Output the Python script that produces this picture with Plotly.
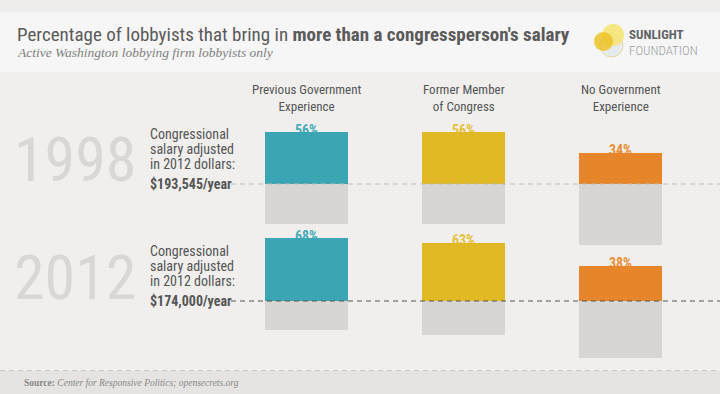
import plotly.graph_objects as go

# ---- data ----
categories = ["Previous Government<br>Experience", "Former Member<br>of Congress", "No Government<br>Experience"]
years = ["1998", "2012"]
values_1998 = [56, 56, 34]
values_2012 = [68, 63, 38]
salary_labels = ["$193,545/year", "$174,000/year"]
colors = ["#3ba5b3", "#e1b924", "#e6852a"]
label_colors = ["#4aabb9", "#e6c13a", "#eb8e35"]
rest_color = "#d7d6d2"

W, H = 720, 394
COND = "Roboto Condensed, Liberation Sans, Arial"
SERIF = "Liberation Serif, DejaVu Serif, serif"


def px(x):
    return x / W


def py(y):
    return 1 - y / H


fig = go.Figure()

# baseline pixel positions & scale: 0.92 px per percent
scale = 0.92
base_px = [184, 301]
yaxes = ["y", "y2"]
series = [values_1998, values_2012]

for yi, (vals, ax) in enumerate(zip(series, yaxes)):
    fig.add_trace(go.Bar(x=categories, y=vals, base=0, marker=dict(color=colors, line=dict(width=0)),
                         width=0.53, yaxis=ax, showlegend=False, hoverinfo="skip"))
    fig.add_trace(go.Bar(x=categories, y=[-(100 - v) for v in vals], base=0,
                         marker=dict(color=rest_color, line=dict(width=0)),
                         width=0.53, yaxis=ax, showlegend=False, hoverinfo="skip"))

shapes = []
# backgrounds
shapes.append(dict(type="rect", xref="paper", yref="paper", x0=0, x1=1, y0=py(12), y1=1,
                   fillcolor="#eeedeb", line=dict(width=0), layer="below"))
shapes.append(dict(type="rect", xref="paper", yref="paper", x0=0, x1=1, y0=py(72), y1=py(12),
                   fillcolor="#f6f6f6", line=dict(width=0), layer="below"))
shapes.append(dict(type="rect", xref="paper", yref="paper", x0=0, x1=1, y0=0, y1=py(371),
                   fillcolor="#e5e4e2", line=dict(width=0), layer="below"))
shapes.append(dict(type="line", xref="paper", yref="paper", x0=0, x1=1, y0=py(370.5), y1=py(370.5),
                   line=dict(color="#c9c8c5", width=1, dash="5px,4px")))

# percent labels, drawn below bars so the bar overlaps them slightly
for yi, (vals, ax) in enumerate(zip(series, yaxes)):
    for i, v in enumerate(vals):
        shapes.append(dict(type="line", xref="x", yref=ax, x0=i - 0.2, x1=i + 0.2, y0=v - 4.5, y1=v - 4.5,
                           line=dict(width=0, color="rgba(0,0,0,0)"), layer="below",
                           label=dict(text=f"<b>{v}%</b>", textposition="middle", yanchor="bottom",
                                      padding=0, font=dict(family=COND, size=14, color=label_colors[i]))))

# salary baselines
shapes.append(dict(type="line", xref="paper", yref="y", x0=px(231), x1=1, y0=0, y1=0,
                   line=dict(color="#bdbcb9", width=1, dash="5px,4px")))
shapes.append(dict(type="line", xref="paper", yref="y2", x0=px(231), x1=1, y0=0, y1=0,
                   line=dict(color="#555555", width=1, dash="5px,4px")))

# logo circles
shapes.append(dict(type="circle", xref="paper", yref="paper",
                   x0=px(600), x1=px(623), y0=py(57), y1=py(34),
                   fillcolor="rgba(228,233,236,0.9)", line=dict(color="#e3d79a", width=1)))
shapes.append(dict(type="circle", xref="paper", yref="paper",
                   x0=px(602), x1=px(624), y0=py(46), y1=py(24),
                   fillcolor="rgba(246,228,110,0.85)", line=dict(width=0)))
shapes.append(dict(type="circle", xref="paper", yref="paper",
                   x0=px(594), x1=px(613), y0=py(51), y1=py(32),
                   fillcolor="rgba(236,195,40,0.85)", line=dict(width=0)))

ann = []
# title
ann.append(dict(text="Percentage of lobbyists that bring in <b>more than a congressperson's salary</b>",
                x=px(15), y=py(35), xref="paper", yref="paper", xanchor="left", yanchor="middle",
                showarrow=False, font=dict(family=COND, size=19, color="#5a5a5a")))
ann.append(dict(text="<i>Active Washington lobbying firm lobbyists only</i>",
                x=px(15), y=py(52.5), xref="paper", yref="paper", xanchor="left", yanchor="middle",
                showarrow=False, font=dict(family=SERIF, size=13.5, color="#808080")))
ann.append(dict(text="<b>SUNLIGHT</b>", x=px(627), y=py(35), xref="paper", yref="paper",
                xanchor="left", yanchor="middle", showarrow=False,
                font=dict(family=COND, size=13, color="#5f6366")))
ann.append(dict(text="FOUNDATION", x=px(627), y=py(50), xref="paper", yref="paper",
                xanchor="left", yanchor="middle", showarrow=False,
                font=dict(family=COND, size=13, weight=300, color="#9a9ea1")))

# column headers
for i, c in enumerate(categories):
    ann.append(dict(text=c, x=i, y=py(98), xref="x", yref="paper", xanchor="center", yanchor="middle",
                    showarrow=False, font=dict(family=COND, size=13, color="#555555")))

# years and salary notes
year_centers = [159, 277]
for yi, yr in enumerate(years):
    ann.append(dict(text=yr, x=px(75), y=py(year_centers[yi]), xref="paper", yref="paper",
                    xanchor="center", yanchor="middle", showarrow=False,
                    font=dict(family=COND, size=62, color="#d8d7d3")))
    top = [134, 251][yi]
    for li, line in enumerate(["Congressional", "salary adjusted", "in 2012 dollars:"]):
        ann.append(dict(text=line, x=px(148), y=py(top + 15 * li), xref="paper", yref="paper",
                        xanchor="left", yanchor="middle", showarrow=False,
                        font=dict(family=COND, size=14, color="#555555")))
    ann.append(dict(text=f"<b>{salary_labels[yi]}</b>", x=px(148), y=0, xref="paper", yref=yaxes[yi],
                    xanchor="left", yanchor="middle", showarrow=False,
                    font=dict(family=COND, size=14, color="#555555")))

ann.append(dict(text="<b>Source:</b> <i>Center for Responsive Politics; opensecrets.org</i>",
                x=px(22), y=py(382.5), xref="paper", yref="paper", xanchor="left", yanchor="middle",
                showarrow=False, font=dict(family=SERIF, size=9.5, color="#888888")))

# axis ranges: 0.92 px per percent, baseline at given pixel
def yrange(b):
    return [(b - H) / scale, b / scale]

unit = 157.0
c0 = 306.5
fig.update_layout(
    width=W, height=H, autosize=False,
    margin=dict(l=0, r=0, t=0, b=0),
    paper_bgcolor="#f0efed", plot_bgcolor="rgba(0,0,0,0)",
    barmode="overlay", bargap=0,
    xaxis=dict(type="category", range=[-c0 / unit, (W - c0) / unit], visible=False, fixedrange=True),
    yaxis=dict(range=yrange(base_px[0]), visible=False, fixedrange=True),
    yaxis2=dict(range=yrange(base_px[1]), visible=False, overlaying="y", fixedrange=True),
    shapes=shapes, annotations=ann,
)

fig.write_html("out.html", config={"displayModeBar": False},
               post_script="document.body.style.margin='0px';")
